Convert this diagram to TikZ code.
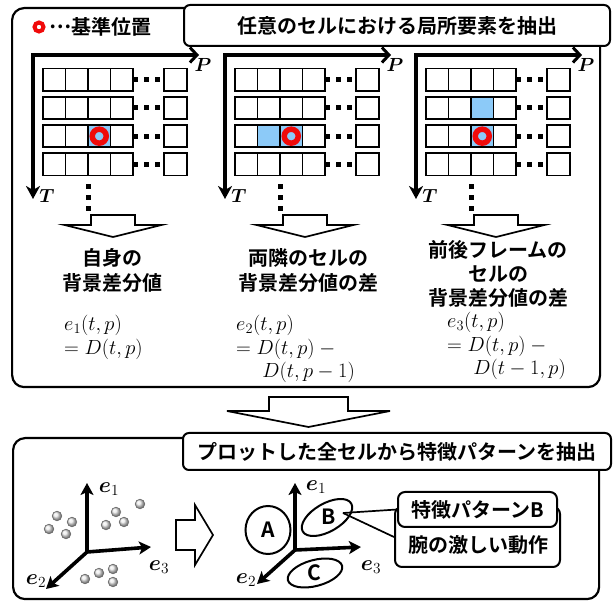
\RequirePackage{fix-cm}
\documentclass[tikz,border=0pt]{standalone}
\usepackage[no-math]{fontspec}
\setmainfont{Noto Sans CJK JP}[BoldFont={* Bold}]
\usepackage{bm}
\usetikzlibrary{arrows.meta,shapes.geometric}
\definecolor{cellblue}{RGB}{140,202,248}
\definecolor{ringred}{RGB}{240,10,10}
\tikzset{
  outerbox/.style={draw, line width=2.2pt, rounded corners=12pt, inner sep=0pt},
  titlebox/.style={draw, line width=2pt, rounded corners=6pt, fill=white, inner sep=0pt, font=\fontsize{20}{24}\selectfont\bfseries},
  gridcell/.style={draw, line width=1.8pt},
  ringmark/.style={circle, draw=ringred, line width=5.5pt, minimum size=14pt, inner sep=0pt},
  axisarr/.style={line width=3.6pt, line join=miter, {Straight Barb[length=7pt,width=15pt,line width=3pt]}-{Stealth[length=13pt,width=14pt,inset=4pt]}},
  axlabel/.style={inner sep=0pt, font=\fontsize{19}{19}\selectfont},
  blockarr/.style={draw, line width=1.7pt, fill=white, line join=miter},
  labeltext/.style={font=\fontsize{20}{25}\selectfont\bfseries, align=center, inner sep=0pt},
  mathtext/.style={font=\fontsize{20.5}{23.5}\selectfont, align=left, anchor=north west, inner sep=0pt},
  scatarr/.style={line width=3.6pt, -{Stealth[length=12pt,width=13pt,inset=3pt]}},
  elabel/.style={inner sep=0pt, font=\fontsize{22}{22}\selectfont},
  sphere/.style={ball color=gray!18},
  groupell/.style={draw, line width=2pt},
  letter/.style={inner sep=0pt, font=\fontsize{21}{21}\selectfont\bfseries},
  callbox/.style={draw, line width=2pt, rounded corners=7pt, fill=white, inner sep=0pt},
  callline/.style={line width=1.7pt}
}
\begin{document}
\begin{tikzpicture}[x=1pt,y=-1pt]
\useasboundingbox (0,0) rectangle (614,601);

% ===== top section =====
\node[outerbox, anchor=north west, minimum width=588pt, minimum height=379pt] (topbox) at (11,7) {};
\node[titlebox, minimum width=426pt, minimum height=41pt] (toptitle) at (397,25.5) {任意のセルにおける局所要素を抽出};

\node[ringmark, line width=4pt, minimum size=9pt, fill=white] (legring) at (39,27) {};
\node[labeltext, anchor=west] (legtext) at (49,27) {\raisebox{0.33em}{…}基準位置};

% blue cells
\fill[cellblue] (88,124.9) rectangle +(22.5,22.5);
\fill[cellblue] (257.5,124.9) rectangle +(22.5,22.5);
\fill[cellblue] (280,124.9) rectangle +(22.5,22.5);
\fill[cellblue] (471,96.7) rectangle +(22.5,22.5);
\fill[cellblue] (471,124.9) rectangle +(22.5,22.5);

\foreach \ax/\g in {33/1,225/2,416/3} {
  \foreach \r in {0,...,3} {
    \foreach \c in {0,...,3} {
      \draw[gridcell] ({\ax+10+22.5*\c},{68.5+28.2*\r}) rectangle +(22.5,22.5);
    }
    \draw[gridcell] ({\ax+131},{68.5+28.2*\r}) rectangle +(23,22.5);
    \foreach \d in {0,1,2} {
      \fill ({\ax+99.5+11*\d},{77.25+28.2*\r}) rectangle +(5,5);
    }
  }
  \foreach \d in {0,1,2} {
    \fill ({\ax+52.5},{184.5+11*\d}) rectangle +(5,5);
  }
  \draw[axisarr] ({\ax+166},55) -- (\ax,55) -- (\ax,199);
  \node[axlabel] (P\g) at ({\ax+170},65) {$\bm{P}$};
  \node[axlabel] (T\g) at ({\ax+14},196) {$\bm{T}$};
  \node[ringmark, fill=cellblue] (ring\g) at ({\ax+66.25},136.2) {};
  \draw[blockarr] ({\ax+58},215) -- ({\ax+102},215) -- ({\ax+102},225) -- ({\ax+128.5},225) -- ({\ax+80},237) -- ({\ax+31.5},225) -- ({\ax+58},225) -- cycle;
}

\node[labeltext] (lab1) at (113,270.5) {自身の\\背景差分値};
\node[labeltext] (lab2) at (308,270.5) {両隣のセルの\\背景差分値の差};
\node[labeltext, font=\fontsize{20}{24}\selectfont\bfseries] (lab3) at (498,274) {前後フレームの\\セルの\\背景差分値の差};

\node[mathtext] (eq1) at (64,315) {$e_1(t,p)$\\$= D(t,p)$};
\node[mathtext] (eq2) at (236,315) {$e_2(t,p)$\\$= D(t,p) -{}$\\$\hphantom{{}={}}D(t,p-1)$};
\node[mathtext] (eq3) at (447,312) {$e_3(t,p)$\\$= D(t,p) -{}$\\$\hphantom{{}={}}D(t-1,p)$};

% ===== big arrow between sections =====
\draw[blockarr] (269,397) -- (348,397) -- (348,411) -- (390,411) -- (308.5,427) -- (227,411) -- (269,411) -- cycle;

% ===== bottom section =====
\node[outerbox, anchor=north west, minimum width=586pt, minimum height=161pt] (botbox) at (12,437) {};
\node[titlebox, minimum width=428pt, minimum height=37pt] (bottitle) at (397,451.5) {プロットした全セルから特徴パターンを抽出};

% left scatter
\coordinate (oA) at (87,552);
\coordinate (e1A) at (87,483);
\coordinate (e3A) at (151,547);
\coordinate (e2A) at (46,589);
\draw[scatarr] (oA) -- (e1A);
\draw[scatarr] (oA) -- (e3A);
\draw[scatarr] (oA) -- (e2A);
\node[elabel] (le1A) at (109,489) {$\bm{e}_1$};
\node[elabel] (le3A) at (159,567) {$\bm{e}_3$};
\node[elabel] (le2A) at (36,581) {$\bm{e}_2$};
\foreach \px/\py in {57/516,72/522,49/529,66/534,116/512,124/522,106/525,140/504,85/579,99/573,113/569,113/582} {
  \shade[sphere] (\px,\py) circle (4.8);
  \draw[gray!80!black, line width=0.6pt] (\px,\py) circle (4.8);
}

% right-pointing block arrow
\draw[blockarr] (176,520) -- (195,520) -- (195,505) -- (213,535) -- (195,565) -- (195,550) -- (176,550) -- cycle;

% right scatter
\coordinate (oB) at (295,550);
\coordinate (e1B) at (295,483);
\coordinate (e3B) at (361,547);
\coordinate (e2B) at (257,584);
\draw[scatarr] (oB) -- (e1B);
\draw[scatarr] (oB) -- (e3B);
\draw[scatarr] (oB) -- (e2B);
\node[elabel] (le1B) at (316,487) {$\bm{e}_1$};
\node[elabel] (le3B) at (371,567) {$\bm{e}_3$};
\node[elabel] (le2B) at (246,580) {$\bm{e}_2$};

\node[groupell, ellipse, minimum width=45pt, minimum height=48pt, inner sep=0pt] (ellA) at (268,530) {};
\node[letter] (letA) at (268,530) {A};
\node[groupell, ellipse, minimum width=56pt, minimum height=28pt, inner sep=0pt, rotate=30] (ellB) at (327,517.5) {};
\node[letter] (letB) at (329,517) {B};
\node[groupell, ellipse, minimum width=56pt, minimum height=26pt, inner sep=0pt, rotate=15] (ellC) at (315,573) {};
\node[letter] (letC) at (314,573) {C};

% callouts
\node[callbox, minimum width=165pt, minimum height=60pt] (cbact) at (477.5,537) {};
\node[labeltext] (acttext) at (478,545) {腕の激しい動作};
\node[callbox, labeltext, minimum width=159pt, minimum height=35pt] (cbpat) at (477.5,509.5) {特徴パターンB};
\coordinate (bpt) at (343,513);
\draw[callline] (bpt) -- (cbpat.west);
\draw[callline] (bpt) -- (cbact.west);
\end{tikzpicture}
\end{document}
